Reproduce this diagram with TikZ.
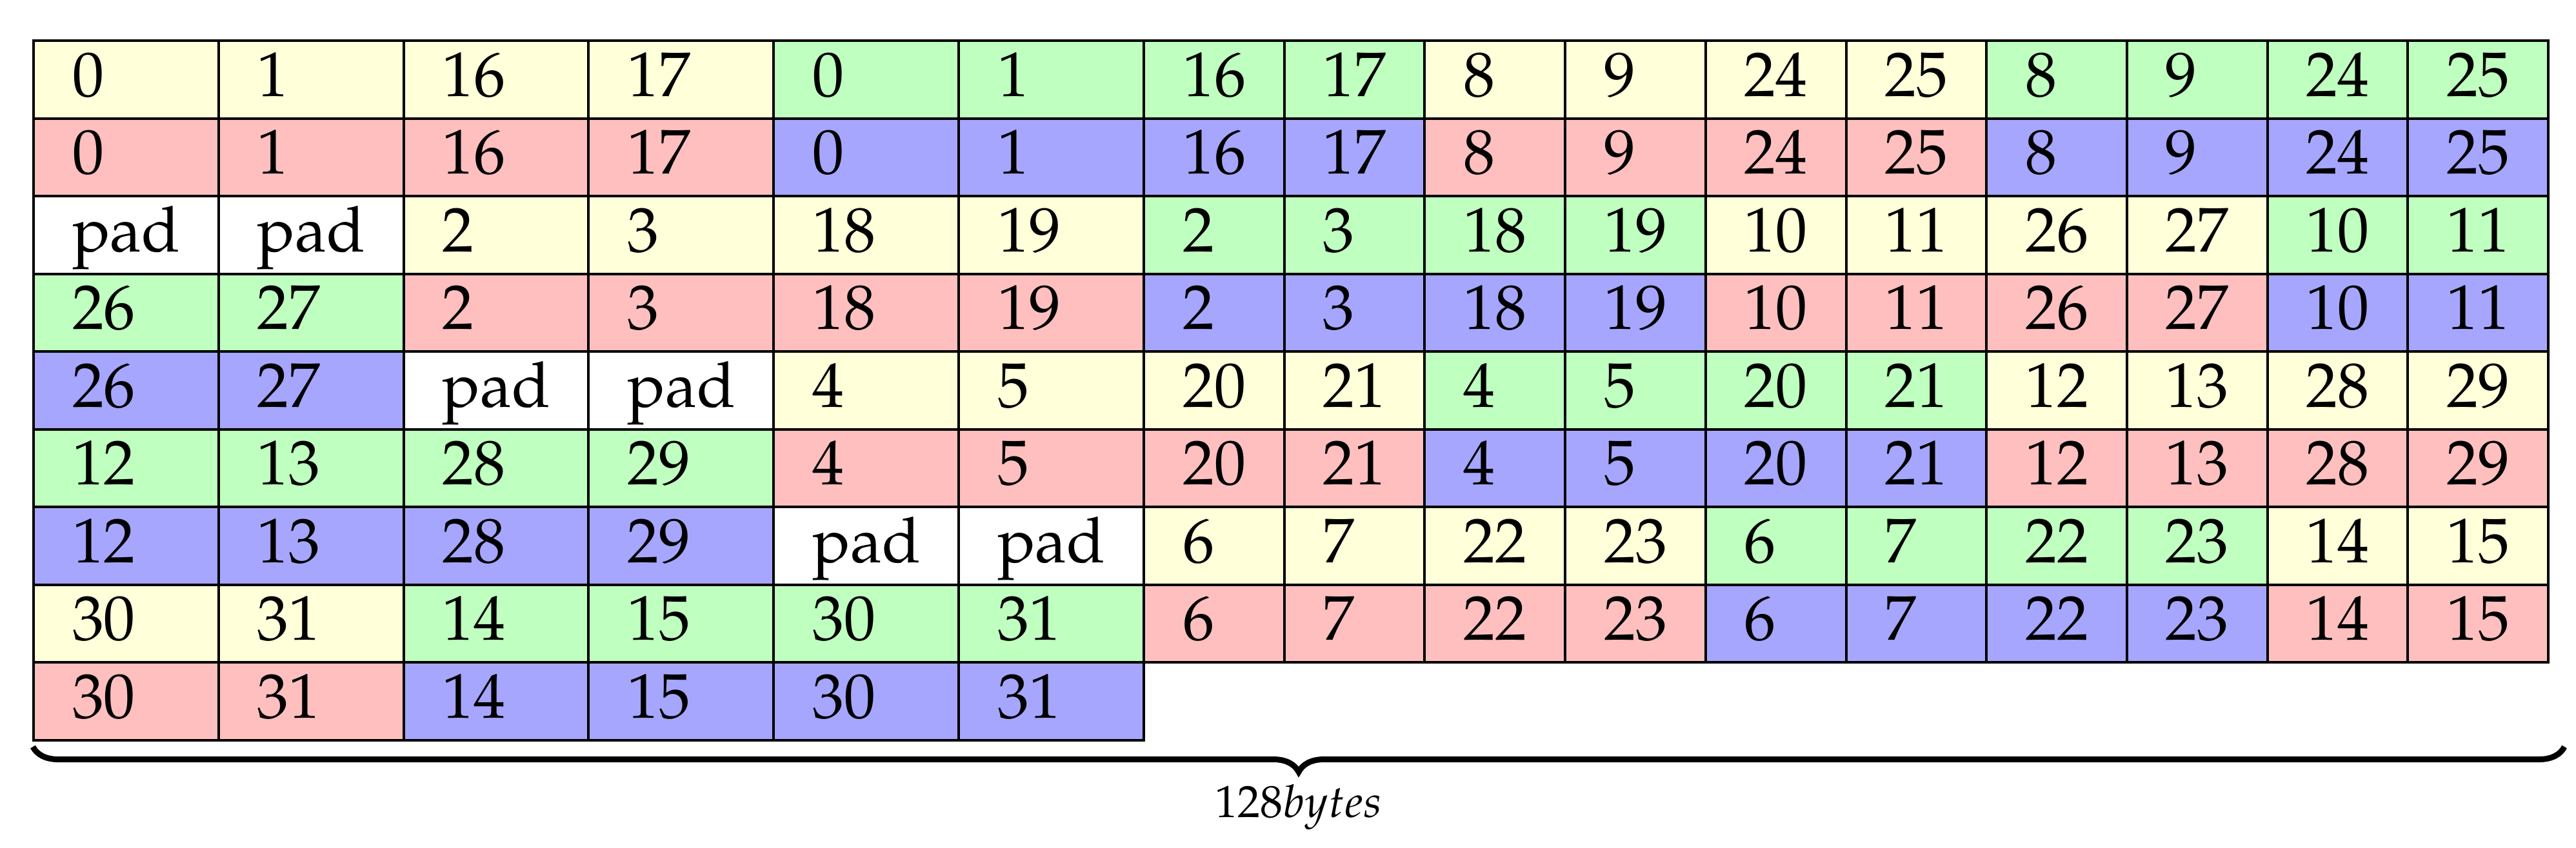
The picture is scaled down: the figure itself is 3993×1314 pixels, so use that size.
\documentclass[tikz,border=0pt]{standalone}
\usepackage[T1]{fontenc}
\usepackage{mathpazo}
\usetikzlibrary{decorations.pathreplacing}
\definecolor{cY}{RGB}{255,255,217}
\definecolor{cR}{RGB}{255,191,191}
\definecolor{cG}{RGB}{191,255,191}
\definecolor{cB}{RGB}{166,166,255}
\definecolor{cW}{RGB}{255,255,255}
\begin{document}
\begin{tikzpicture}[x=0.1pt,y=-0.1pt,
  cellbox/.style={draw=black, line width=0.4pt, inner sep=0pt, outer sep=0pt, anchor=north west, minimum height=12.05pt},
  celltext/.style={anchor=base west, inner sep=0pt, font=\fontencoding{T1}\fontfamily{pplx}\fontsize{9.8}{12}\selectfont},
  bracestyle/.style={decorate, decoration={brace, mirror, amplitude=3.9pt}, line width=0.9pt},
  bracelabel/.style={anchor=base, inner sep=0pt, font=\fontencoding{T1}\fontfamily{pplx}\fontsize{7}{8}\selectfont}]
\useasboundingbox (0,0) rectangle (3993,1314);
\foreach \row [count=\r from 0] in {
  {Y/0,Y/1,Y/16,Y/17,G/0,G/1,G/16,G/17,Y/8,Y/9,Y/24,Y/25,G/8,G/9,G/24,G/25},
  {R/0,R/1,R/16,R/17,B/0,B/1,B/16,B/17,R/8,R/9,R/24,R/25,B/8,B/9,B/24,B/25},
  {W/pad,W/pad,Y/2,Y/3,Y/18,Y/19,G/2,G/3,G/18,G/19,Y/10,Y/11,Y/26,Y/27,G/10,G/11},
  {G/26,G/27,R/2,R/3,R/18,R/19,B/2,B/3,B/18,B/19,R/10,R/11,R/26,R/27,B/10,B/11},
  {B/26,B/27,W/pad,W/pad,Y/4,Y/5,Y/20,Y/21,G/4,G/5,G/20,G/21,Y/12,Y/13,Y/28,Y/29},
  {G/12,G/13,G/28,G/29,R/4,R/5,R/20,R/21,B/4,B/5,B/20,B/21,R/12,R/13,R/28,R/29},
  {B/12,B/13,B/28,B/29,W/pad,W/pad,Y/6,Y/7,Y/22,Y/23,G/6,G/7,G/22,G/23,Y/14,Y/15},
  {Y/30,Y/31,G/14,G/15,G/30,G/31,R/6,R/7,R/22,R/23,B/6,B/7,B/22,B/23,R/14,R/15},
  {R/30,R/31,B/14,B/15,B/30,B/31}} {
  \foreach \c/\t [count=\i from 0] in \row {
    \pgfmathsetmacro{\xx}{\i<6 ? 52+\i*286.8 : 1773+(\i-6)*217.7}
    \pgfmathsetmacro{\ww}{\i<6 ? 28.68 : 21.77}
    \pgfmathsetmacro{\yy}{63+\r*120.5}
    \node[cellbox, fill=c\c, minimum width=\ww pt] (cell-\r-\i) at (\xx,\yy) {};
    \node[celltext] (txt-\r-\i) at ([xshift=5.8pt, yshift=-8.6pt]cell-\r-\i.north west) {\t};
  }
}
\coordinate (bl) at (51,1158);
\coordinate (br) at (3975,1158);
\draw[bracestyle] (bl) -- (br);
\node[bracelabel] (lbl) at (2013,1267) {$128 bytes$};
\end{tikzpicture}
\end{document}
